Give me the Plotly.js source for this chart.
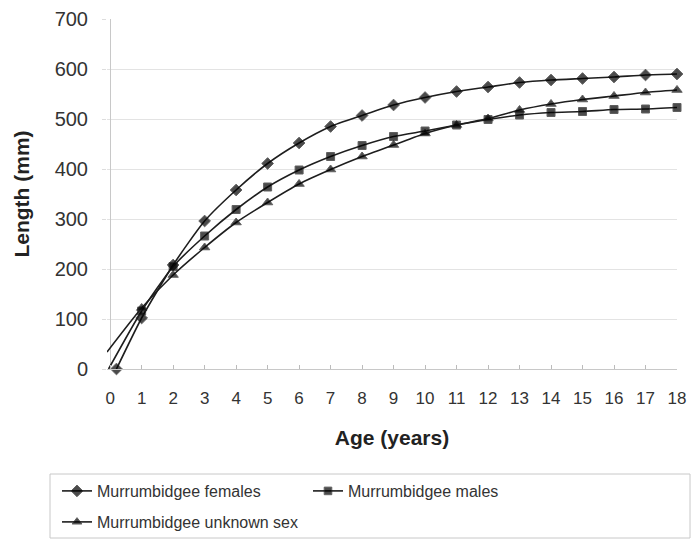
<!DOCTYPE html>
<html>
<head>
<meta charset="utf-8">
<script src="https://cdn.plot.ly/plotly-3.0.1.min.js"></script>
<style>html,body{margin:0;padding:0;background:#fff;}#chart{width:700px;height:541px;}</style>
</head>
<body>
<div id="chart"></div>
<script>
// Ages (years) at which the marked points are plotted
const femaleAges = [0.2, 1, 2, 3, 4, 5, 6, 7, 8, 9, 10, 11, 12, 13, 14, 15, 16, 17, 18];
const femaleLength = [0, 102, 208, 296, 358, 411, 452, 485, 507, 528, 543, 555, 564, 573, 578, 581, 584, 588, 590];

const maleAges = [-0.05, 1, 2, 3, 4, 5, 6, 7, 8, 9, 10, 11, 12, 13, 14, 15, 16, 17, 18];
const maleLength = [0, 116, 205, 266, 319, 364, 398, 425, 447, 465, 476, 488, 499, 508, 513, 515, 519, 520, 523];

const unknownAges = [-0.1, 1, 2, 3, 4, 5, 6, 7, 8, 9, 10, 11, 12, 13, 14, 15, 16, 17, 18];
const unknownLength = [34, 122, 188, 243, 293, 333, 370, 399, 425, 448, 471, 488, 501, 518, 530, 539, 546, 553, 558];

const seriesNames = ["Murrumbidgee females", "Murrumbidgee males", "Murrumbidgee unknown sex"];
const xTicks = [0, 1, 2, 3, 4, 5, 6, 7, 8, 9, 10, 11, 12, 13, 14, 15, 16, 17, 18];
const yTicks = [0, 100, 200, 300, 400, 500, 600, 700];

const FONT = "Liberation Sans, Arial, sans-serif";
const lineStyle = {color: "#1e1e1e", width: 1.6, shape: "spline", smoothing: 0.6};

function sizes(ages, hasStartMarker, s) {
  return ages.map((a, i) => (i === 0 && !hasStartMarker) ? 0 : s);
}

const traces = [
  {x: femaleAges, y: femaleLength, name: seriesNames[0], mode: "lines+markers",
   line: lineStyle, cliponaxis: false, legend: "legend",
   marker: {symbol: "diamond", size: sizes(femaleAges, true, 9), color: "#000"}},
  {x: maleAges, y: maleLength, name: seriesNames[1], mode: "lines+markers",
   line: lineStyle, cliponaxis: false, legend: "legend2",
   marker: {symbol: "square", size: sizes(maleAges, false, 8), color: "#000"}},
  {x: unknownAges, y: unknownLength, name: seriesNames[2], mode: "lines+markers",
   line: lineStyle, cliponaxis: false, legend: "legend3",
   marker: {symbol: "triangle-up", size: sizes(unknownAges, false, 9), color: "#000"}}
];

// plot area in pixels: left 107, right 677, top 19, bottom 369
const W = 700, H = 541;
const L = 107, R = 677, T = 19, B = 369;
const px2x = p => (p - L) / (R - L);
const px2y = p => (B - p) / (B - T);
const cx = p => p / W;
const cy = p => 1 - p / H;

const legendBase = {
  orientation: "h", xanchor: "left", yanchor: "middle",
  xref: "container", yref: "container",
  bgcolor: "rgba(0,0,0,0)", borderwidth: 0,
  font: {family: FONT, size: 16, color: "#333"}
};

const layout = {
  width: W, height: H,
  margin: {l: L, r: W - R, t: T, b: H - B},
  paper_bgcolor: "#fff", plot_bgcolor: "#fff",
  font: {family: FONT, color: "#333"},
  showlegend: true,
  xaxis: {
    range: [-0.1, 18], tickvals: xTicks, ticktext: xTicks.map(String),
    ticks: "inside", ticklen: 4, tickcolor: "#bbb",
    showgrid: false, zeroline: true, zerolinecolor: "#c8c8c8", zerolinewidth: 1,
    showline: true, linecolor: "#c8c8c8", linewidth: 1,
    tickfont: {family: FONT, size: 17, color: "#333"},
    ticklabelstandoff: 14,
    title: {text: "Age (years)", font: {family: FONT, size: 21, color: "#222", weight: "bold"}, standoff: 22}
  },
  yaxis: {
    range: [0, 700], tickvals: yTicks,
    ticks: "outside", ticklen: 4, tickcolor: "#ddd",
    showgrid: true, gridcolor: "#e3e3e3", gridwidth: 1,
    zeroline: false, showline: false,
    tickfont: {family: FONT, size: 20, color: "#333"},
    ticklabelstandoff: 10,
    title: {text: "Length (mm)", font: {family: FONT, size: 21, color: "#222", weight: "bold"}, standoff: 19}
  },
  legend: Object.assign({}, legendBase, {x: cx(57), y: cy(491)}),
  legend2: Object.assign({}, legendBase, {x: cx(308), y: cy(491)}),
  legend3: Object.assign({}, legendBase, {x: cx(57), y: cy(522)}),
  shapes: [{
    type: "rect", xref: "paper", yref: "paper",
    x0: px2x(50), x1: px2x(690), y0: px2y(474), y1: px2y(538),
    line: {color: "#c8c8c8", width: 1}, fillcolor: "rgba(0,0,0,0)", layer: "below"
  }]
};

Plotly.newPlot("chart", traces, layout, {displayModeBar: false, staticPlot: true});
</script>
</body>
</html>
